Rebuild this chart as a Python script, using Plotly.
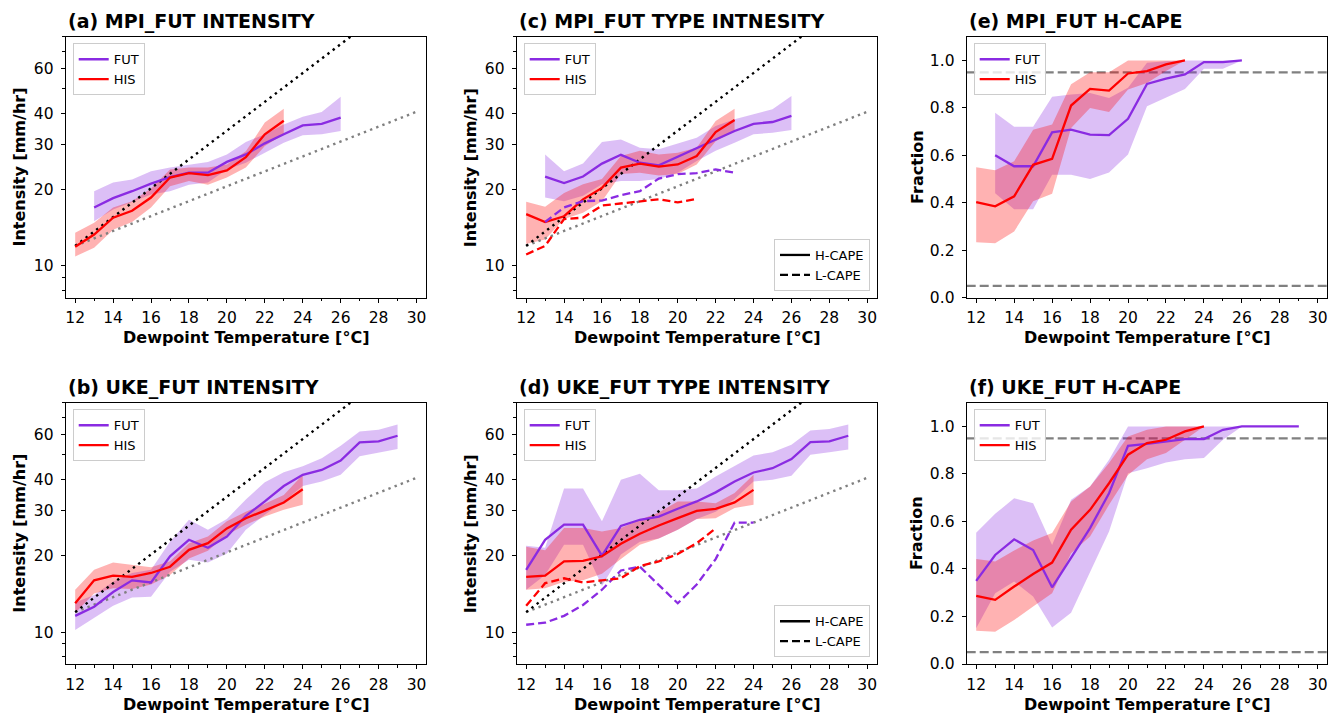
import plotly.graph_objects as go

# ---------------- data ----------------
X_HIS_A = list(range(12, 24))
X_FUT_A = list(range(13, 27))
X_HIS_B = list(range(12, 25))
X_FUT_B = list(range(12, 30))

# (a) MPI intensity
a_fut = [17.0, 18.5, 19.7, 21.1, 22.4, 23.3, 23.3, 25.7, 27.5, 30.4, 33.0, 35.8, 36.3, 38.4]
a_fut_hi = [19.7, 21.3, 21.9, 23.6, 24.4, 25.1, 25.7, 27.5, 30.8, 33.0, 36.1, 38.7, 40.4, 46.4]
a_fut_lo = [15.0, 16.7, 17.8, 19.1, 19.7, 20.9, 21.3, 24.0, 25.5, 27.9, 30.6, 32.7, 33.0, 34.0]
a_his = [11.9, 13.3, 15.5, 16.5, 18.6, 22.3, 23.2, 22.8, 23.8, 26.8, 33.0, 37.3]
a_his_hi = [13.5, 14.8, 17.0, 18.0, 20.2, 24.0, 24.4, 24.4, 25.1, 28.3, 36.7, 41.6]
a_his_lo = [10.9, 11.8, 13.9, 14.9, 17.0, 20.6, 21.6, 20.9, 22.3, 24.4, 29.7, 33.0]

# (c) MPI type intensity
c_fut = [22.5, 21.2, 22.5, 25.3, 27.4, 25.5, 24.9, 26.9, 29.0, 31.5, 34.0, 36.3, 36.9, 39.0]
c_fut_hi = [27.5, 23.6, 25.3, 30.8, 31.5, 29.2, 28.8, 30.4, 32.0, 35.6, 37.8, 39.6, 41.4, 46.7]
c_fut_lo = [18.6, 18.0, 18.9, 21.0, 21.6, 21.6, 22.0, 23.3, 25.9, 28.4, 30.6, 33.0, 33.5, 34.3]
c_his = [16.0, 14.9, 15.7, 18.3, 20.3, 24.4, 25.3, 24.6, 25.1, 27.1, 33.7, 37.6]
c_his_hi = [17.9, 17.1, 19.4, 21.0, 22.0, 27.1, 28.4, 27.5, 27.9, 29.2, 37.2, 41.6]
c_his_lo = [12.2, 12.7, 15.3, 16.2, 18.0, 23.0, 23.3, 22.7, 23.0, 25.1, 31.0, 34.0]
X_FUT_CL = list(range(13, 24))
c_fut_l = [14.9, 17.0, 18.0, 18.1, 19.0, 19.7, 22.1, 23.0, 23.2, 24.0, 23.3]
X_HIS_CL = list(range(12, 22))
c_his_l = [11.1, 12.0, 15.3, 15.5, 17.3, 17.6, 17.9, 18.3, 17.8, 18.4]

# (e) MPI H-CAPE fraction
e_fut = [0.600, 0.554, 0.554, 0.697, 0.708, 0.687, 0.685, 0.754, 0.901, 0.923, 0.941, 0.993, 0.993, 1.0]
e_fut_hi = [0.78, 0.72, 0.72, 0.847, 0.856, 0.863, 0.842, 0.885, 0.99, 0.997, 1.0, 1.0, 1.0, 1.0]
e_fut_lo = [0.44, 0.373, 0.373, 0.518, 0.518, 0.50, 0.528, 0.603, 0.807, 0.842, 0.88, 0.965, 0.965, 1.0]
e_his = [0.403, 0.385, 0.427, 0.56, 0.585, 0.81, 0.88, 0.873, 0.945, 0.955, 0.983, 1.0]
e_his_hi = [0.55, 0.537, 0.575, 0.708, 0.73, 0.90, 0.95, 0.95, 1.0, 1.0, 1.0, 1.0]
e_his_lo = [0.234, 0.23, 0.279, 0.406, 0.438, 0.715, 0.80, 0.783, 0.877, 0.905, 0.955, 1.0]

# (b) UKE intensity
b_fut = [11.6, 12.6, 14.4, 16.0, 15.7, 19.9, 23.1, 21.5, 23.8, 28.7, 32.7, 37.6, 41.6, 43.5, 47.4, 55.8, 56.3, 59.3]
b_fut_hi = [13.1, 14.0, 15.8, 17.1, 17.6, 22.7, 27.7, 25.3, 27.9, 33.3, 38.9, 42.6, 45.0, 48.4, 54.2, 61.6, 62.6, 65.6]
b_fut_lo = [10.2, 11.35, 12.7, 13.7, 13.8, 17.3, 19.3, 18.8, 20.4, 25.3, 29.0, 32.7, 37.6, 39.2, 41.6, 49.2, 51.0, 52.6]
b_his = [13.0, 16.0, 16.7, 16.5, 17.1, 18.1, 21.1, 22.4, 25.6, 28.1, 30.1, 32.4, 36.5]
b_his_hi = [14.7, 17.6, 18.8, 18.4, 18.0, 19.0, 22.4, 23.8, 27.3, 29.8, 32.0, 34.7, 41.6]
b_his_lo = [11.9, 14.2, 14.9, 14.8, 15.4, 16.8, 19.5, 20.9, 24.2, 26.5, 28.5, 30.3, 31.7]

# (d) UKE type intensity
d_fut = [17.6, 23.1, 26.5, 26.5, 20.0, 26.2, 27.7, 28.5, 30.6, 32.7, 35.5, 39.2, 42.5, 44.2, 48.0, 56.0, 56.3, 59.3]
d_fut_hi = [21.9, 21.5, 36.8, 36.8, 27.3, 39.8, 42.0, 36.2, 36.2, 36.8, 41.0, 45.0, 49.6, 51.0, 54.7, 62.2, 63.0, 65.6]
d_fut_lo = [14.7, 16.8, 22.1, 22.1, 15.2, 20.2, 22.7, 23.4, 25.3, 27.9, 29.8, 33.4, 39.2, 39.8, 41.3, 49.9, 51.0, 52.3]
d_his = [16.5, 16.7, 19.0, 19.1, 19.9, 22.3, 24.4, 26.3, 28.1, 30.0, 30.6, 32.4, 36.3]
d_his_hi = [21.7, 21.0, 25.7, 25.7, 24.9, 25.7, 27.7, 29.6, 32.7, 32.7, 32.2, 35.3, 41.6]
d_his_lo = [14.7, 14.9, 15.8, 16.0, 17.0, 19.4, 22.1, 23.4, 25.3, 27.9, 28.1, 30.8, 31.7]
X_FUT_DL = list(range(12, 25))
d_fut_l = [10.7, 10.9, 11.6, 12.8, 14.7, 17.5, 18.1, 15.4, 13.0, 15.4, 19.4, 27.0, 27.0]
X_HIS_DL = list(range(12, 23))
d_his_l = [12.7, 15.6, 16.3, 15.7, 16.0, 16.3, 18.2, 19.0, 20.3, 22.4, 25.6]

# (f) UKE H-CAPE fraction
f_fut = [0.35, 0.459, 0.525, 0.48, 0.323, 0.445, 0.572, 0.719, 0.918, 0.927, 0.937, 0.947, 0.947, 0.986, 1.0, 1.0, 1.0, 1.0]
f_fut_hi = [0.553, 0.632, 0.698, 0.677, 0.501, 0.691, 0.747, 0.86, 1.0, 1.0, 1.0, 1.0, 1.0, 1.0, 1.0, 1.0, 1.0, 1.0]
f_fut_lo = [0.15, 0.298, 0.347, 0.284, 0.154, 0.216, 0.389, 0.558, 0.803, 0.824, 0.848, 0.862, 0.867, 0.944, 1.0, 1.0, 1.0, 1.0]
f_his = [0.287, 0.27, 0.326, 0.379, 0.427, 0.565, 0.649, 0.761, 0.881, 0.93, 0.944, 0.979, 1.0]
f_his_hi = [0.442, 0.431, 0.478, 0.52, 0.551, 0.684, 0.747, 0.846, 0.958, 0.986, 1.0, 1.0, 1.0]
f_his_lo = [0.14, 0.136, 0.185, 0.242, 0.298, 0.466, 0.537, 0.67, 0.796, 0.862, 0.888, 0.944, 1.0]

# Clausius-Clapeyron reference lines (endpoints; straight on log axis)
CC_X = [12, 30]
CC1_Y = [12.0, 40.5]    # ~7 %/K
CC2_Y = [12.0, 126.0]   # ~14 %/K
FRAC_LEVELS = [0.05, 0.95]

X_TICKS = list(range(12, 31, 2))
INT_TICKS = [10, 20, 30, 40, 60]
INT_MINOR = [8, 9, 50, 70, 80]
FRAC_TICKS = [0.0, 0.2, 0.4, 0.6, 0.8, 1.0]

TITLES = {
    1: "(a) MPI_FUT INTENSITY", 2: "(b) UKE_FUT INTENSITY",
    3: "(c) MPI_FUT TYPE INTNESITY", 4: "(d) UKE_FUT TYPE INTENSITY",
    5: "(e) MPI_FUT H-CAPE", 6: "(f) UKE_FUT H-CAPE",
}

# ---------------- layout helpers ----------------
W, H = 1338, 713
FONT = "DejaVu Sans"
FUT_C, HIS_C = "#8A2BE2", "#FF0000"
FUT_F, HIS_F = "rgba(138,43,226,0.3)", "rgba(255,0,0,0.3)"
COLS = [(65.7, 426.0), (516.7, 876.7), (966.7, 1327.3)]
ROWS = [(36.7, 297.7), (402.7, 664.0)]
YLAB_X = [19.3, 470.0, 916.7]
POS = {1: (0, 0), 2: (0, 1), 3: (1, 0), 4: (1, 1), 5: (2, 0), 6: (2, 1)}


def pxx(p):
    return p / W


def pxy(p):
    return 1 - p / H


def xa(n):
    return "x" if n == 1 else f"x{n}"


def ya(n):
    return "y" if n == 1 else f"y{n}"


def lg(n):
    return "legend" if n == 1 else f"legend{n}"


fig = go.Figure()


def band(n, x, lo, hi, color):
    fig.add_trace(go.Scatter(
        x=list(x) + list(x)[::-1], y=list(hi) + list(lo)[::-1], fill="toself",
        fillcolor=color, line=dict(width=0), mode="lines", hoverinfo="skip",
        showlegend=False, xaxis=xa(n), yaxis=ya(n)))


def line(n, x, y, color, name=None, dash="solid", width=2.3, legend=None):
    fig.add_trace(go.Scatter(
        x=list(x), y=list(y), mode="lines", name=name,
        line=dict(color=color, width=width, dash=dash),
        showlegend=name is not None, legend=legend,
        xaxis=xa(n), yaxis=ya(n)))


def refs(n):
    line(n, CC_X, CC1_Y, "#808080", dash="2.4px,4.2px", width=2.4)
    line(n, CC_X, CC2_Y, "#000000", dash="2.4px,4.2px", width=2.4)


panels = {
    1: (X_FUT_A, a_fut, a_fut_lo, a_fut_hi, X_HIS_A, a_his, a_his_lo, a_his_hi),
    2: (X_FUT_B, b_fut, b_fut_lo, b_fut_hi, X_HIS_B, b_his, b_his_lo, b_his_hi),
    3: (X_FUT_A, c_fut, c_fut_lo, c_fut_hi, X_HIS_A, c_his, c_his_lo, c_his_hi),
    4: (X_FUT_B, d_fut, d_fut_lo, d_fut_hi, X_HIS_B, d_his, d_his_lo, d_his_hi),
    5: (X_FUT_A, e_fut, e_fut_lo, e_fut_hi, X_HIS_A, e_his, e_his_lo, e_his_hi),
    6: (X_FUT_B, f_fut, f_fut_lo, f_fut_hi, X_HIS_B, f_his, f_his_lo, f_his_hi),
}

DASH = "8px,4px"
for n, (xf, yf, lf, hf, xh, yh, lh, hh) in panels.items():
    band(n, xf, lf, hf, FUT_F)
    band(n, xh, lh, hh, HIS_F)
    if n <= 4:
        refs(n)
    line(n, xf, yf, FUT_C, name="FUT", legend=lg(n))
    line(n, xh, yh, HIS_C, name="HIS", legend=lg(n))
    if n == 3:
        line(n, X_FUT_CL, c_fut_l, FUT_C, dash=DASH)
        line(n, X_HIS_CL, c_his_l, HIS_C, dash=DASH)
    if n == 4:
        line(n, X_FUT_DL, d_fut_l, FUT_C, dash=DASH)
        line(n, X_HIS_DL, d_his_l, HIS_C, dash=DASH)

# H-CAPE / L-CAPE legend entries
for n, lgid in ((3, "legend7"), (4, "legend8")):
    fig.add_trace(go.Scatter(x=[None], y=[None], mode="lines", name="H-CAPE",
                             line=dict(color="black", width=2.3), legend=lgid,
                             xaxis=xa(n), yaxis=ya(n)))
    fig.add_trace(go.Scatter(x=[None], y=[None], mode="lines", name="L-CAPE",
                             line=dict(color="black", width=2.3, dash=DASH), legend=lgid,
                             xaxis=xa(n), yaxis=ya(n)))

layout = dict(
    width=W, height=H, autosize=False,
    margin=dict(l=0, r=0, t=0, b=0, pad=0, autoexpand=False),
    paper_bgcolor="white", plot_bgcolor="white",
    font=dict(family=FONT, color="black", size=15),
    annotations=[], shapes=[],
)

common_axis = dict(
    showgrid=False, zeroline=False, showline=True, mirror=True, automargin=False,
    linecolor="black", linewidth=1.2, ticks="outside", ticklen=4,
    tickwidth=1, tickcolor="black", tickfont=dict(size=15.5, family=FONT, color="black"),
)

for n, (c, r) in POS.items():
    x0, x1 = COLS[c]
    y0, y1 = ROWS[r]
    xkey = "xaxis" if n == 1 else f"xaxis{n}"
    ykey = "yaxis" if n == 1 else f"yaxis{n}"
    layout[xkey] = dict(
        common_axis, domain=[pxx(x0), pxx(x1)], anchor=ya(n), range=[11.5, 30.5],
        tickmode="array", tickvals=X_TICKS, ticktext=[str(v) for v in X_TICKS],
        ticklabelstandoff=2,
        minor=dict(dtick=1, ticks="outside", ticklen=2.5, tickcolor="black", showgrid=False),
    )
    if n <= 4:
        layout[ykey] = dict(
            common_axis, domain=[pxy(y1), pxy(y0)], anchor=xa(n), type="log",
            range=[0.875, 1.903], tickmode="array", tickvals=INT_TICKS,
            ticktext=[str(v) for v in INT_TICKS], ticklabelstandoff=4,
            minor=dict(tickmode="array", tickvals=INT_MINOR, ticks="outside",
                       ticklen=2.5, tickcolor="black", showgrid=False),
        )
        ylab = "Intensity [mm/hr]"
    else:
        layout[ykey] = dict(
            common_axis, domain=[pxy(y1), pxy(y0)], anchor=xa(n),
            range=[0, 1.1], tickmode="array", tickvals=FRAC_TICKS,
            ticktext=[f"{v:.1f}" for v in FRAC_TICKS], ticklabelstandoff=4,
        )
        ylab = "Fraction"
        for lev in FRAC_LEVELS:
            layout["shapes"].append(dict(
                type="line", xref=f"{xa(n)} domain", x0=0, x1=1, yref=ya(n),
                y0=lev, y1=lev, line=dict(color="#808080", width=2.2, dash="9px,4px"),
                layer="below"))
    # title
    layout["annotations"].append(dict(
        text=f"<b>{TITLES[n]}</b>", xref="paper", yref="paper",
        x=pxx(x0 + 0.5), y=pxy(y0), xanchor="left", yanchor="bottom", yshift=2,
        showarrow=False, font=dict(size=19, family=FONT, color="black")))
    # x label
    layout["annotations"].append(dict(
        text="<b>Dewpoint Temperature [°C]</b>", xref="paper", yref="paper",
        x=pxx((x0 + x1) / 2), y=pxy(y1 + 40.0), xanchor="center", yanchor="middle",
        showarrow=False, font=dict(size=16, family=FONT, color="black")))
    # y label
    layout["annotations"].append(dict(
        text=f"<b>{ylab}</b>", xref="paper", yref="paper", textangle=-90,
        x=pxx(YLAB_X[c]), y=pxy((y0 + y1) / 2), xanchor="center", yanchor="middle",
        showarrow=False, font=dict(size=16, family=FONT, color="black")))
    # FUT/HIS legend
    layout[lg(n)] = dict(
        x=pxx(x0 + 7), y=pxy(y0 + 6.6), xanchor="left", yanchor="top",
        bgcolor="rgba(255,255,255,0.8)", bordercolor="#cccccc", borderwidth=1,
        font=dict(size=13, family=FONT, color="black"), itemwidth=30,
        tracegroupgap=0, traceorder="normal")

for lgid, r in (("legend7", 0), ("legend8", 1)):
    layout[lgid] = dict(
        x=pxx(COLS[1][1] - 6.7), y=pxy(ROWS[r][1] - 6.7), xanchor="right", yanchor="bottom",
        bgcolor="rgba(255,255,255,0.8)", bordercolor="#cccccc", borderwidth=1,
        font=dict(size=13, family=FONT, color="black"), itemwidth=30,
        tracegroupgap=0, traceorder="normal")

fig.update_layout(**layout)
fig.write_html(
    "out.html",
    config={"displayModeBar": False, "responsive": False},
    post_script="document.body.style.margin='0px';document.body.style.overflow='hidden';",
)
